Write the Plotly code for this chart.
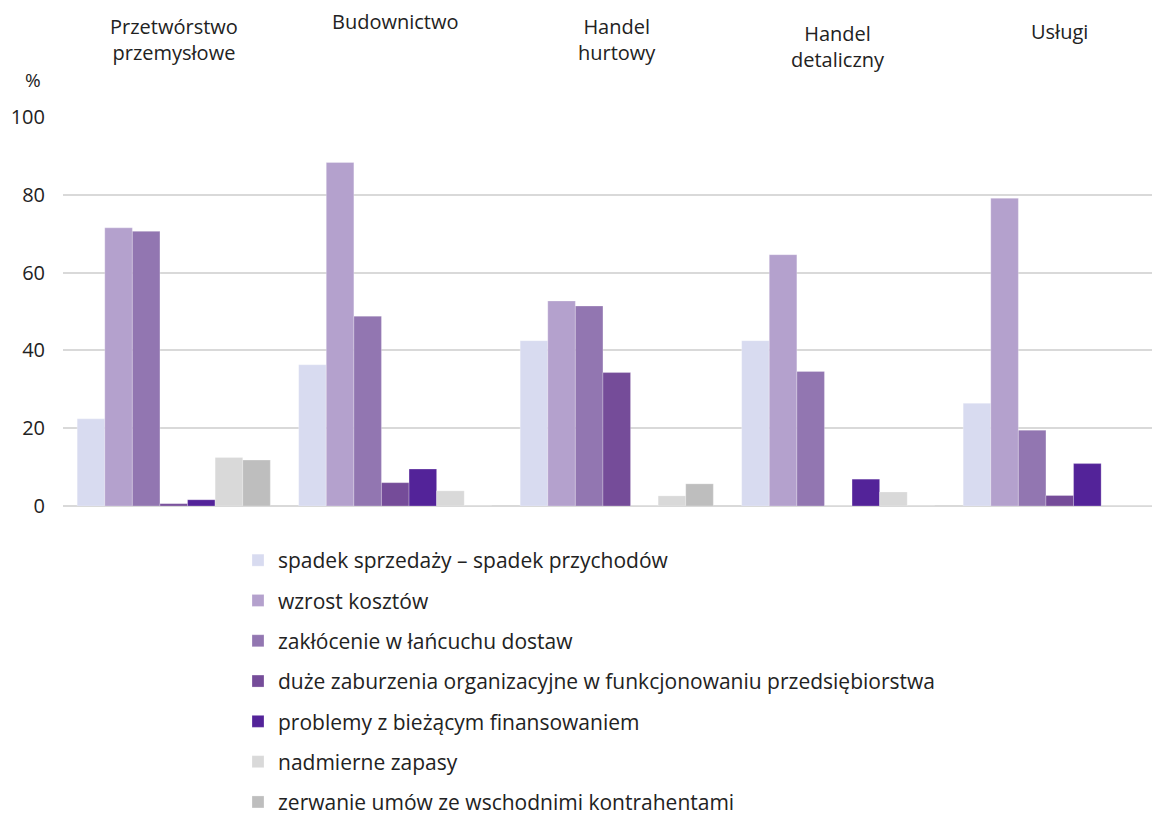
import plotly.graph_objects as go

categories = ["Przetwórstwo<br>przemysłowe", "Budownictwo", "Handel<br>hurtowy", "Handel<br>detaliczny", "Usługi"]
series_names = [
    "spadek sprzedaży – spadek przychodów",
    "wzrost kosztów",
    "zakłócenie w łańcuchu dostaw",
    "duże zaburzenia organizacyjne w funkcjonowaniu przedsiębiorstwa",
    "problemy z bieżącym finansowaniem",
    "nadmierne zapasy",
    "zerwanie umów ze wschodnimi kontrahentami",
]
spadek_sprzedazy = [22.4, 36.3, 42.5, 42.5, 26.4]
wzrost_kosztow = [71.5, 88.3, 52.7, 64.6, 79.1]
zaklocenie_dostaw = [70.6, 48.8, 51.4, 34.6, 19.5]
zaburzenia_org = [0.6, 6.0, 34.3, 0.0, 2.7]
problemy_finans = [1.6, 9.5, 0.0, 6.9, 10.9]
nadmierne_zapasy = [12.5, 3.9, 2.6, 3.6, 0.0]
zerwanie_umow = [11.8, 0.0, 5.7, 0.0, 0.0]
series_values = [spadek_sprzedazy, wzrost_kosztow, zaklocenie_dostaw, zaburzenia_org,
                 problemy_finans, nadmierne_zapasy, zerwanie_umow]
y_ticks = [0, 20, 40, 60, 80, 100]

colors = ["#d8dbf0", "#b4a1cd", "#9276b1", "#754c99", "#532399", "#d9d9d9", "#bebebe"]

FONT = "Open Sans, Noto Sans, sans-serif"
FS = 20
OFF = 8  # page body margin
W, H = 1160 - OFF, 814 - OFF
# plot area in screen pixels, converted to figure pixels
PLOT_L, PLOT_R, PLOT_T, PLOT_B = 63 - OFF, 1158 - OFF, 117 - OFF, 506 - OFF
PW, PH = PLOT_R - PLOT_L, PLOT_B - PLOT_T

fig = go.Figure()
xs = list(range(len(categories)))
for i, (name, vals) in enumerate(zip(series_names, series_values)):
    fig.add_trace(go.Bar(
        x=xs, y=vals, name=name, legendgroup=f"g{i}",
        marker=dict(color=colors[i], line=dict(color="rgba(255,255,255,0.5)", width=0.5)),
    ))

# category labels on top (screen-pixel vertical centres)
label_y_px = [39, 22, 40, 46, 31]
for i, (cat, py) in enumerate(zip(categories, label_y_px)):
    fig.add_annotation(
        x=i, xref="x", y=(PLOT_B - (py - OFF)) / PH, yref="paper",
        text=cat, showarrow=False, xanchor="center", yanchor="middle",
        font=dict(family=FONT, size=FS, color="#222222"), align="center",
    )
fig.add_annotation(
    x=(33 - OFF - PLOT_L) / PW, xref="paper", y=(PLOT_B - (80 - OFF)) / PH, yref="paper",
    text="%", showarrow=False, font=dict(family=FONT, size=FS - 1, color="#222222"),
    xanchor="center", yanchor="middle",
)

px_per_cat = 221.5
rng_right = PW / px_per_cat - 0.5

fig.update_layout(
    width=W, height=H,
    margin=dict(l=PLOT_L, r=W - PLOT_R, t=PLOT_T, b=H - PLOT_B, pad=0, autoexpand=False),
    paper_bgcolor="white", plot_bgcolor="white",
    barmode="group", bargap=0.128, bargroupgap=0,
    font=dict(family=FONT, size=FS, color="#222222"),
    xaxis=dict(range=[-0.5, rng_right], showticklabels=False, showgrid=False,
               zeroline=False, showline=False, ticks=""),
    yaxis=dict(range=[0, 100], tickvals=y_ticks, showgrid=True, gridcolor="#d9d9d9",
               gridwidth=1.5, zeroline=True, zerolinecolor="#d9d9d9", zerolinewidth=1.5,
               showline=False, ticks="", ticklabelstandoff=17,
               tickfont=dict(family=FONT, size=FS, color="#222222")),
    showlegend=True,
    legend=dict(orientation="v", xref="paper", yref="paper",
                x=(238 - OFF - PLOT_L) / PW, y=(PLOT_B - (540 - OFF)) / PH,
                xanchor="left", yanchor="top",
                traceorder="grouped", tracegroupgap=10,
                font=dict(family=FONT, size=21, color="#222222"),
                itemwidth=30, bgcolor="rgba(0,0,0,0)"),
)

fig.write_html("out.html")
